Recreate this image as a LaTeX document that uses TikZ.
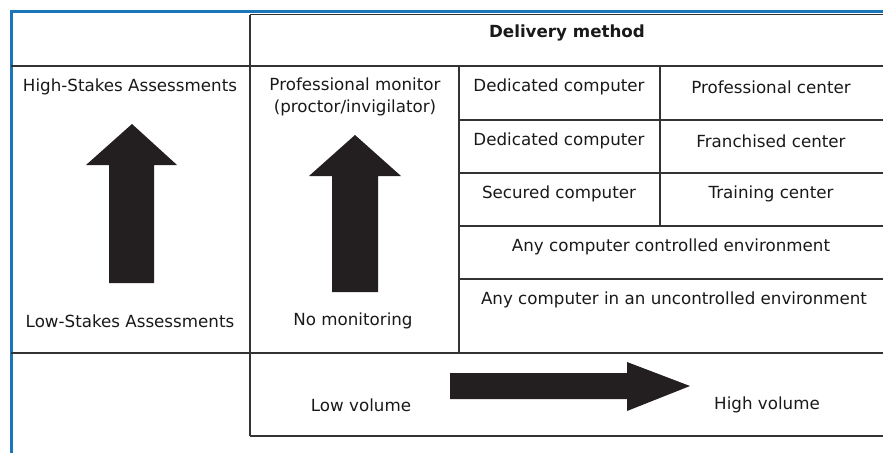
\documentclass[tikz,border=0pt]{standalone}
\usepackage{fontspec}
\setmainfont{DejaVu Sans}
\usepackage{xcolor}
\usetikzlibrary{positioning}
\definecolor{frameblue}{HTML}{1B75BB}
\definecolor{rulegray}{HTML}{333333}
\definecolor{arrowblack}{HTML}{231F20}

\begin{document}
\begin{tikzpicture}[
    x=1pt, y=-1pt,
    frame/.style={frameblue, line width=3pt},
    rule/.style={rulegray, line width=1.6pt},
    bigarrow/.style={fill=arrowblack},
    cell/.style={font=\fontsize{16.7}{22}\selectfont, text=black!90, align=center, inner sep=0pt},
    headcell/.style={cell, font=\fontsize{16.7}{22}\selectfont\bfseries}
]
\def\xL{11}
\def\xA{250}
\def\xB{459}
\def\xC{660}
\def\xR{883}
\def\yTop{14.5}
\def\yHead{66}
\def\yRa{120}
\def\yRb{173}
\def\yRc{226}
\def\yRd{279}
\def\yFoot{353}
\def\yEnd{436}

\useasboundingbox (0,0) rectangle (883,453);

% Blue frame
\draw[frame] (\xR, 11.5) -- (\xL, 11.5) -- (\xL, 453);

% Table rules
\draw[rule] (\xA, \yTop) -- (\xR, \yTop);
\draw[rule] (\xL, \yHead) -- (\xR, \yHead);
\draw[rule] (\xL, \yFoot) -- (\xR, \yFoot);
\draw[rule] (\xA, \yEnd) -- (\xR, \yEnd);
\draw[rule] (\xA, \yTop) -- (\xA, \yEnd);
\draw[rule] (\xB, \yHead) -- (\xB, \yFoot);
\draw[rule] (\xC, \yHead) -- (\xC, \yRc);
\foreach \y in {\yRa, \yRb, \yRc, \yRd} {
    \draw[rule] (\xB, \y) -- (\xR, \y);
}

% Header
\node[headcell] (delivery) at (567, 33) {Delivery method};

% Stakes column
\node[cell] (highstakes) at (130, 87) {High-Stakes Assessments};
\node[cell] (lowstakes)  at (130, 321) {Low-Stakes Assessments};
\fill[bigarrow] (132,124) -- (177,165) -- (154,165) -- (154,283) -- (109,283) -- (109,165) -- (86,165) -- cycle;

% Monitoring column
\node[cell] (proctor)   at (355, 97) {Professional monitor\\(proctor/invigilator)};
\node[cell] (nomonitor) at (353, 321) {No monitoring};
\fill[bigarrow] (355,135) -- (401,176) -- (378,176) -- (378,292) -- (332,292) -- (332,176) -- (309,176) -- cycle;

% Delivery cells
\node[cell] (dedcompa)  at (559, 87)  {Dedicated computer};
\node[cell] (profcent)  at (771, 87)  {Professional center};
\node[cell] (dedcompb)  at (559, 141) {Dedicated computer};
\node[cell] (franchise) at (771, 141) {Franchised center};
\node[cell] (secured)   at (559, 194) {Secured computer};
\node[cell] (training)  at (771, 194) {Training center};
\node[cell] (anyctrl)   at (671, 247) {Any computer controlled environment};
\node[cell] (anyunctrl) at (674, 300) {Any computer in an uncontrolled environment};

% Volume row
\node[cell] (lowvol)  at (361, 405) {Low volume};
\node[cell] (highvol) at (767, 405) {High volume};
\fill[bigarrow] (450,373) -- (627,373) -- (627,362) -- (690,386) -- (627,411) -- (627,399) -- (450,399) -- cycle;

\end{tikzpicture}
\end{document}
